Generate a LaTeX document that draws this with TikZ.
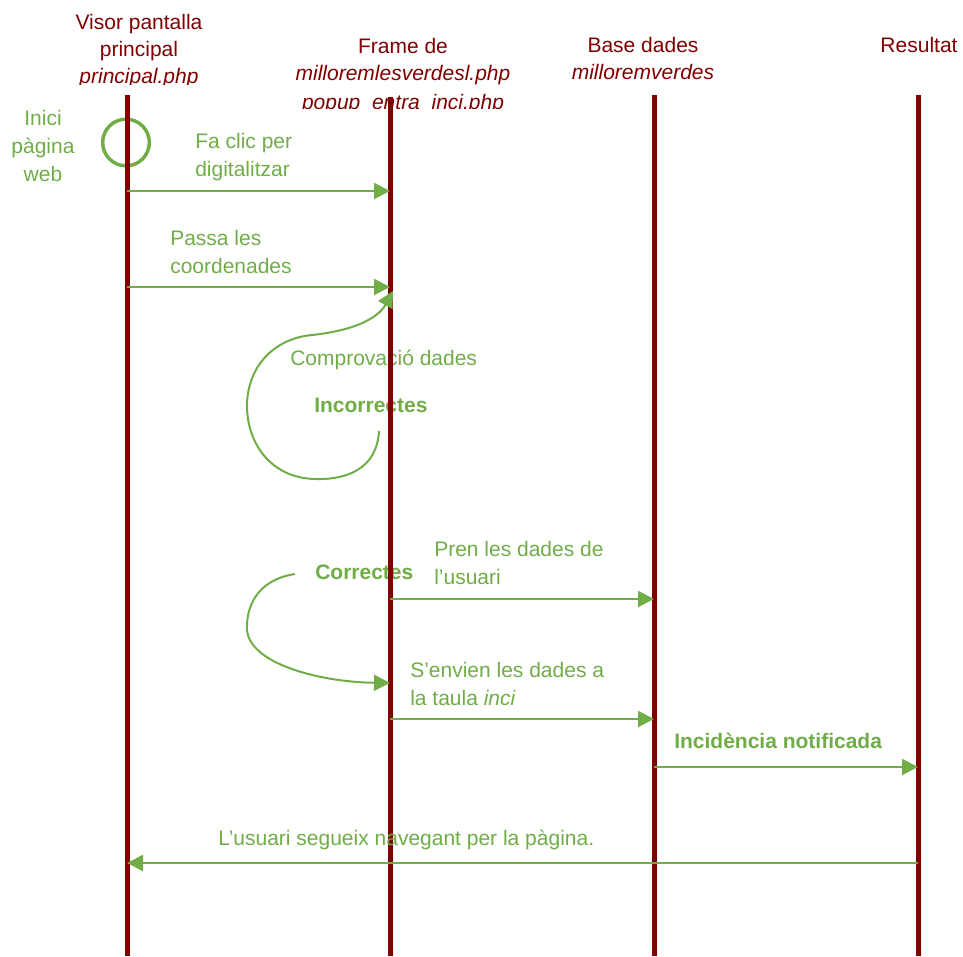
\documentclass[tikz,border=0pt]{standalone}
\usepackage{fontspec}
\setmainfont{Liberation Sans}
\usetikzlibrary{arrows.meta}
\definecolor{lifered}{RGB}{128,0,0}
\definecolor{msggreen}{RGB}{112,173,71}
\newcommand\mlines[2]{\begin{tabular}[t]{@{}#1@{}}#2\end{tabular}}
\begin{document}
\begin{tikzpicture}[x=0.75pt,y=-0.75pt,
  headtext/.style={inner sep=0pt,anchor=base,text=lifered,font=\fontsize{15.75}{20.25}\selectfont},
  msgtext/.style={inner sep=0pt,anchor=base west,text=msggreen,font=\fontsize{15.75}{21}\selectfont},
  boldtext/.style={msgtext,font=\fontsize{15.75}{21}\selectfont\bfseries},
  lifeline/.style={draw=lifered,line width=3.75pt},
  msg/.style={draw=msggreen,line width=1.5pt,-{Triangle[length=12pt,width=12pt]}},
  loop/.style={draw=msggreen,line width=1.5pt,-{Triangle[length=12pt,width=12pt]}},
]
\useasboundingbox (0,0) rectangle (963,956);

% headers
\begin{scope}
\clip (0,0) rectangle (963,84.5);
\node[headtext] (visor) at (139,30) {\mlines{c}{Visor pantalla\\principal\\\itshape principal.php}};
\end{scope}
\begin{scope}
\clip (0,0) rectangle (963,108.3);
\node[headtext] (frame) at (403,54) {\mlines{c}{Frame de\\\itshape milloremlesverdesl.php\\[1.5pt]\itshape popup\_entra\_inci.php}};
\end{scope}
\node[headtext] (base) at (643,53) {\mlines{c}{Base dades\\\itshape milloremverdes}};
\node[headtext] (resultat) at (919,53) {Resultat};

% texts lying under the lifelines
\node[msgtext] (comprov) at (290,365) {Comprovació dades};
\node[boldtext] (incorr) at (314,412) {Incorrectes};
\node[boldtext] (corr) at (315,579) {Correctes};

% start circle
\node[draw=msggreen,line width=2.6pt,circle,minimum size=35pt,inner sep=0pt] (inici) at (126,142.5) {};

% lifelines
\coordinate (vtop) at (127,95);   \coordinate (vbot) at (127,956);
\coordinate (ftop) at (390,97);   \coordinate (fbot) at (390,956);
\coordinate (btop) at (654,95);   \coordinate (bbot) at (654,956);
\coordinate (rtop) at (918,95);   \coordinate (rbot) at (918,956);
\draw[lifeline] (vtop) -- (vbot);
\draw[lifeline] (ftop) -- (fbot);
\draw[lifeline] (btop) -- (bbot);
\draw[lifeline] (rtop) -- (rbot);

% message end points
\coordinate (v1) at (127,191); \coordinate (f1) at (390,191);
\coordinate (v2) at (127,287); \coordinate (f2) at (390,287);
\coordinate (f3) at (390,599); \coordinate (b3) at (654,599);
\coordinate (f4) at (390,719); \coordinate (b4) at (654,719);
\coordinate (b5) at (654,767); \coordinate (r5) at (918,767);
\coordinate (r6) at (918,863); \coordinate (v6) at (127,863);
\coordinate (l1s) at (379,431); \coordinate (l1e) at (393,291);
\coordinate (l2s) at (295,574); \coordinate (l2e) at (390,683);

% labels
\node[msgtext,anchor=base] (inicitxt) at (43,125) {\mlines{c}{Inici\\pàgina\\web}};
\node[msgtext] (faclic) at (195,148) {\mlines{l}{Fa clic per\\digitalitzar}};
\node[msgtext] (passa) at (170,245) {\mlines{l}{Passa les\\coordenades}};
\node[msgtext] (pren) at (434,556) {\mlines{l}{Pren les dades de\\l’usuari}};
\node[msgtext] (envien) at (410,677) {\mlines{l}{S’envien les dades a\\la taula \itshape inci}};
\node[boldtext] (notif) at (674,748) {Incidència notificada};
\node[msgtext] (segueix) at (218,845) {L’usuari segueix navegant per la pàgina.};

% messages
\draw[msg] (v1) -- (f1);
\draw[msg] (v2) -- (f2);
\draw[msg] (f3) -- (b3);
\draw[msg] (f4) -- (b4);
\draw[msg] (b5) -- (r5);
\draw[msg] (r6) -- (v6);

% self loops
\draw[loop] (l1s) .. controls (377,468) and (348,480) .. (315,479)
  .. controls (270,478) and (246,442) .. (247,403)
  .. controls (249,362) and (278,338) .. (312,335)
  .. controls (350,331) and (377,320) .. (l1e);
\draw[loop] (l2s) .. controls (256,580) and (246,608) .. (247,630)
  .. controls (250,664) and (320,682) .. (l2e);
\end{tikzpicture}
\end{document}
